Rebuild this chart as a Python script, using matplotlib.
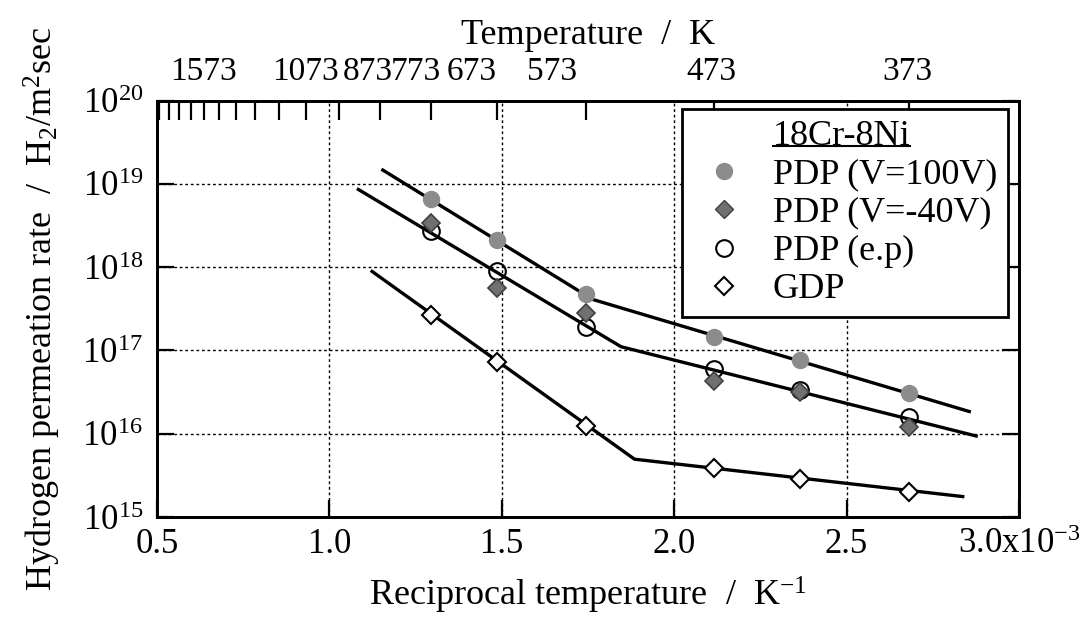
import numpy as np
import matplotlib.pyplot as plt
from matplotlib.lines import Line2D

plt.rcParams['font.family'] = 'Liberation Serif'
plt.rcParams['mathtext.fontset'] = 'custom'
plt.rcParams['mathtext.rm'] = 'Liberation Serif'
plt.rcParams['mathtext.it'] = 'Liberation Serif:italic'
plt.rcParams['mathtext.default'] = 'regular'

# measurement temperatures (K)
temps = np.array([773, 673, 573, 473, 423, 373])
inv_t = 1000.0 / temps  # in 1e-3 K^-1

# hydrogen permeation rate, H2/m2 sec
pdp_100v = [6.6e18, 2.1e18, 4.8e17, 1.47e17, 7.7e16, 3.1e16]
pdp_m40v = [3.4e18, 5.7e17, 2.85e17, 4.3e16, 3.2e16, 1.22e16]
pdp_ep = [2.7e18, 8.9e17, 1.94e17, 6.0e16, 3.37e16, 1.6e16]
gdp = [2.7e17, 7.2e16, 1.24e16, 3.9e15, 2.9e15, 2.0e15]

# fitted lines (broken at the knee)
fit_100v_x = [1.155, 1.764, 2.856]
fit_100v_y = [1.47e19, 4.1e17, 1.85e16]
fit_pdp_x = [1.084, 1.846, 2.876]
fit_pdp_y = [8.6e18, 1.11e17, 9.4e15]
fit_gdp_x = [1.124, 1.885, 2.837]
fit_gdp_y = [8.9e17, 4.95e15, 1.76e15]

# top axis
top_tick_temps = [373, 473, 573, 673, 773, 873, 973, 1073, 1173, 1273,
                  1373, 1473, 1573, 1673, 1773, 1873, 1973]
top_labels = ['1573', '1073', '873', '773', '673', '573', '473', '373']
top_label_pos = [0.636, 0.932, 1.112, 1.250, 1.412, 1.647, 2.108, 2.677]

x_ticks = [0.5, 1.0, 1.5, 2.0, 2.5, 3.0]
x_ticklabels = ['0.5', '1.0', '1.5', '2.0', '2.5', '3.0x10$^{-3}$']
y_ticks = [1e15, 1e16, 1e17, 1e18, 1e19, 1e20]
y_ticklabels = ['$10^{15}$', '$10^{16}$', '$10^{17}$', '$10^{18}$', '$10^{19}$', '$10^{20}$']

fig = plt.figure(figsize=(10.9, 6.26), dpi=100)
ax = fig.add_axes([0.1440, 0.1741, 0.7908, 0.6650])

ax.plot(fit_100v_x, fit_100v_y, color='black', lw=2.4, zorder=2)
ax.plot(fit_pdp_x, fit_pdp_y, color='black', lw=2.4, zorder=2)
ax.plot(fit_gdp_x, fit_gdp_y, color='black', lw=2.4, zorder=2)

ax.plot(inv_t, pdp_100v, 'o', ms=11.5, mfc='#8c8c8c', mec='#8c8c8c', zorder=3)
ax.plot(inv_t, pdp_ep, 'o', ms=12, mfc='none', mec='black', mew=1.5, zorder=3)
ax.plot(inv_t, pdp_m40v, 'D', ms=9, mfc='#707070', mec='#404040', mew=1.2, zorder=4)
ax.plot(inv_t, gdp, 'D', ms=9, mfc='white', mec='black', mew=1.5, zorder=3)

ax.set_yscale('log')
ax.set_xlim(0.5, 3.0)
ax.set_ylim(1e15, 1e20)
ax.set_xticks(x_ticks)
ax.set_xticklabels(x_ticklabels)
ax.set_yticks(y_ticks)
ax.set_yticklabels(y_ticklabels)
ax.yaxis.set_minor_locator(plt.NullLocator())
ax.tick_params(axis='both', direction='in', length=12, width=1.6, labelsize=25)
ax.tick_params(axis='x', pad=8, top=False)
ax.tick_params(axis='y', pad=10, right=True)
ax.grid(True, linestyle=(0, (2, 2)), color='black', linewidth=1.0)
for sp in ax.spines.values():
    sp.set_linewidth(2)

ax.set_xlabel('Reciprocal temperature  /  K$^{-1}$', fontsize=26, labelpad=10)
ax.set_ylabel('Hydrogen permeation rate  /  H$_2$/m$^2$sec', fontsize=26, labelpad=14)

ax2 = ax.twiny()
ax2.set_xlim(0.5, 3.0)
ax2.set_xticks(top_label_pos)
ax2.set_xticklabels(top_labels)
ax2.set_xticks([1000.0 / t for t in top_tick_temps], minor=True)
ax2.tick_params(axis='x', which='major', length=0, pad=10, labelsize=24)
ax2.tick_params(axis='x', which='minor', direction='in', length=14, width=1.6)
ax2.set_xlabel('Temperature  /  K', fontsize=26, labelpad=9)
for sp in ax2.spines.values():
    sp.set_linewidth(2)

handles = [
    Line2D([], [], linestyle='none'),
    Line2D([], [], linestyle='none', marker='o', ms=11.5, mfc='#8c8c8c', mec='#8c8c8c'),
    Line2D([], [], linestyle='none', marker='D', ms=9, mfc='#707070', mec='#404040'),
    Line2D([], [], linestyle='none', marker='o', ms=12, mfc='none', mec='black', mew=1.5),
    Line2D([], [], linestyle='none', marker='D', ms=9, mfc='white', mec='black', mew=1.5),
]
labels = ['18Cr-8Ni', 'PDP (V=100V)', 'PDP (V=-40V)', 'PDP (e.p)', 'GDP']
leg = ax2.legend(handles, labels, loc='upper right', bbox_to_anchor=(0.987, 0.980),
                 borderaxespad=0, fontsize=26, frameon=True, fancybox=False,
                 edgecolor='black', borderpad=0.3, handlelength=1.7,
                 handletextpad=0.5, labelspacing=0.14)
leg.get_frame().set_linewidth(2)
leg.get_frame().set_alpha(1)

fig.canvas.draw()
bb = leg.get_texts()[0].get_window_extent().transformed(fig.transFigure.inverted())
fig.add_artist(Line2D([bb.x0, bb.x1], [bb.y0 + 0.012, bb.y0 + 0.012],
                      transform=fig.transFigure, color='black', lw=1.5))

fig.savefig('out.png', dpi=100)
